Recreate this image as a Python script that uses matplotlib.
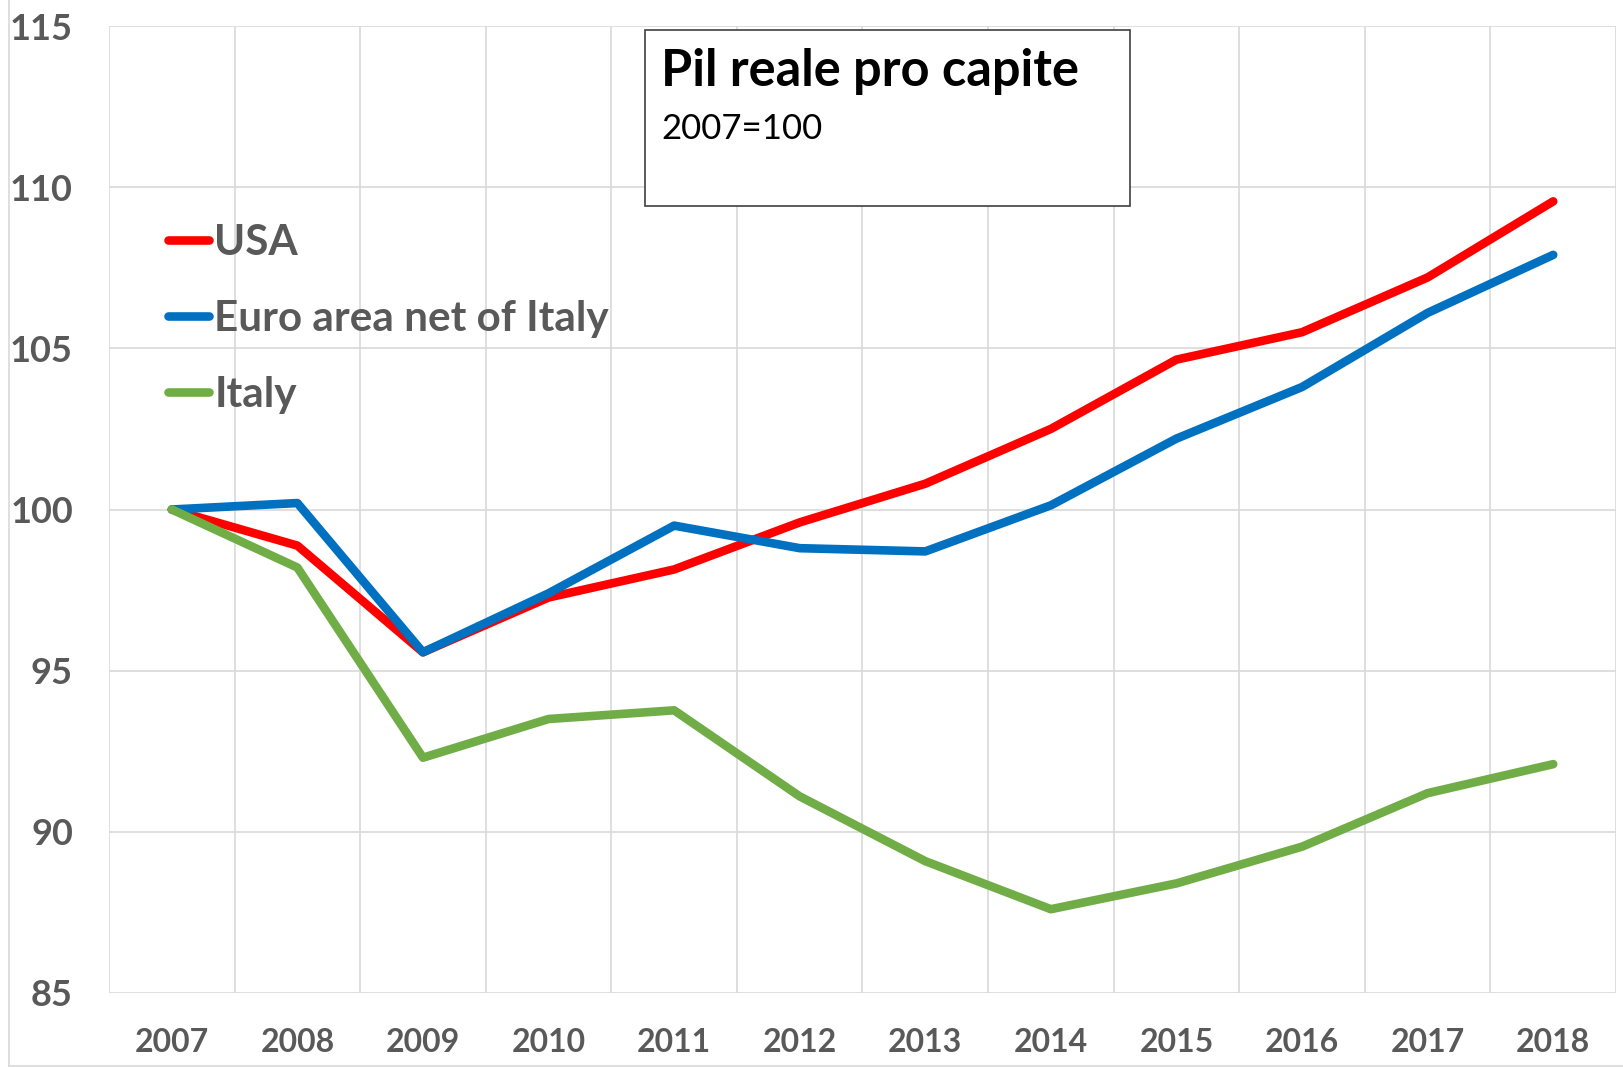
import matplotlib
matplotlib.use("Agg")
import matplotlib.pyplot as plt
from matplotlib.patches import Rectangle
from matplotlib.lines import Line2D
import numpy as np

years = ["2007", "2008", "2009", "2010", "2011", "2012",
         "2013", "2014", "2015", "2016", "2017", "2018"]
usa = [100, 98.88, 95.57, 97.27, 98.14, 99.6, 100.8, 102.5, 104.65, 105.5, 107.2, 109.56]
euro_ex_italy = [100, 100.2, 95.57, 97.4, 99.5, 98.8, 98.7, 100.13, 102.2, 103.8, 106.1, 107.9]
italy = [100, 98.2, 92.3, 93.5, 93.77, 91.1, 89.09, 87.6, 88.4, 89.54, 91.2, 92.1]

series_names = ["USA", "Euro area net of Italy", "Italy"]
series_colors = ["#ff0000", "#0070c0", "#70ad47"]
yticks = [85, 90, 95, 100, 105, 110, 115]

plt.rcParams["font.family"] = ["Lato", "DejaVu Sans"]
grid_col = "#d9d9d9"
txt_col = "#595959"

fig = plt.figure(figsize=(16.23, 10.67), dpi=100)
ax = fig.add_axes([109 / 1623, 1 - 993 / 1067, 1507 / 1623, 967 / 1067])

x = np.arange(len(years))
for vals, name, col in zip([usa, euro_ex_italy, italy], series_names, series_colors):
    ax.plot(x, vals, color=col, lw=6.2, label=name,
            solid_capstyle="round", solid_joinstyle="round", zorder=3)

ax.set_xlim(-0.5, len(years) - 0.5)
ax.set_ylim(85, 115)
ax.set_xticks(x)
ax.set_xticklabels(years)
ax.set_xticks(np.arange(-0.5, len(years), 1), minor=True)
ax.set_yticks(yticks)
ax.tick_params(which="both", length=0)
ax.tick_params(axis="x", pad=25, labelsize=23, labelcolor=txt_col)
ax.tick_params(axis="y", pad=26, labelsize=26, labelcolor=txt_col)
for lab in ax.get_xticklabels() + ax.get_yticklabels():
    lab.set_fontweight("bold")

ax.grid(True, which="minor", axis="x", color=grid_col, lw=1.2)
ax.grid(True, which="major", axis="y", color=grid_col, lw=1.2)
ax.set_axisbelow(True)
for s in ax.spines.values():
    s.set_visible(False)

# title box
ax.add_patch(Rectangle((0.3557, 0.814), 0.3218, 0.182, transform=ax.transAxes,
                       facecolor="white", edgecolor="#404040", lw=1.2, zorder=4))
ax.text(0.3663, 0.938, "Pil reale pro capite", transform=ax.transAxes,
        fontsize=36.4, fontweight="bold", color="black", va="baseline", zorder=5)
ax.text(0.3663, 0.883, "2007=100", transform=ax.transAxes,
        fontsize=25, color="black", va="baseline", zorder=5)

leg = ax.legend(loc="upper left", bbox_to_anchor=(0.039, 0.795), frameon=False,
                fontsize=30.4, handlelength=0.98, handletextpad=0.12,
                labelspacing=0.9, borderpad=0, borderaxespad=0)
for t in leg.get_texts():
    t.set_color(txt_col)
    t.set_fontweight("bold")

# light border around the chart area
fig.add_artist(Line2D([8.5 / 1623, 8.5 / 1623], [1.5 / 1067, 1.0], color=grid_col, lw=1.2))
fig.add_artist(Line2D([8.5 / 1623, 1.0], [1.5 / 1067, 1.5 / 1067], color=grid_col, lw=1.2))

fig.savefig("out.png", dpi=100)
